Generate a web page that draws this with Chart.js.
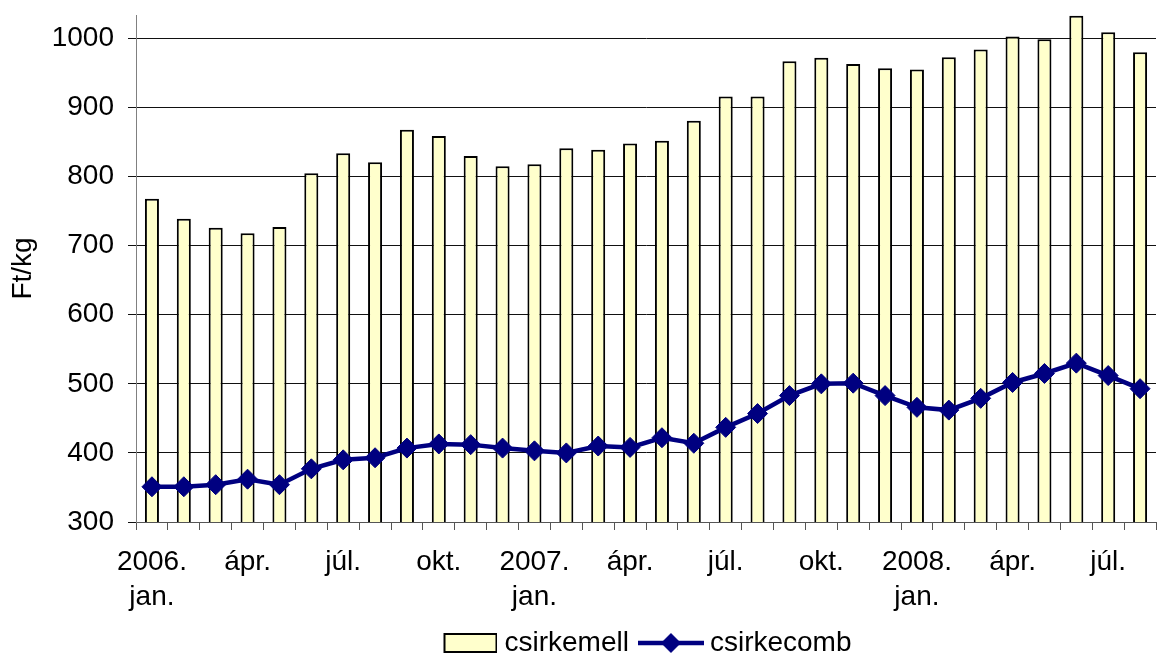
<!DOCTYPE html>
<html>
<head>
<meta charset="utf-8">
<script src="https://cdn.jsdelivr.net/npm/chart.js@4/dist/chart.umd.min.js"></script>
<style>
  html, body { margin: 0; padding: 0; overflow: hidden; background: #fff; }
  #wrap { position: relative; width: 1157px; height: 655px; overflow: hidden; }
  #c { position: absolute; left: 0; top: 0; }
</style>
</head>
<body>
<div id="wrap"><canvas id="c" width="1167" height="667"></canvas></div>
<script>
// Categories: months 2006 jan .. 2008 aug
const categories = [
  "2006. jan.","2006. febr.","2006. márc.","2006. ápr.","2006. máj.","2006. jún.",
  "2006. júl.","2006. aug.","2006. szept.","2006. okt.","2006. nov.","2006. dec.",
  "2007. jan.","2007. febr.","2007. márc.","2007. ápr.","2007. máj.","2007. jún.",
  "2007. júl.","2007. aug.","2007. szept.","2007. okt.","2007. nov.","2007. dec.",
  "2008. jan.","2008. febr.","2008. márc.","2008. ápr.","2008. máj.","2008. jún.",
  "2008. júl.","2008. aug."
];

// Axis tick labels shown under the categories
const tickLabels = [
  ["2006.","jan."],"","","ápr.","","","júl.","","","okt.","","",
  ["2007.","jan."],"","","ápr.","","","júl.","","","okt.","","",
  ["2008.","jan."],"","","ápr.","","","júl.",""
];

// Series values (Ft/kg)
const csirkemell = [
  768, 739, 726, 718, 727, 805, 834, 821, 868, 859, 830, 815,
  818, 841, 839, 848, 852, 881, 916, 916, 967, 972, 963, 957,
  955, 973, 984, 1003, 999, 1033, 1009, 980
];
const csirkecomb = [
  351, 351, 354, 362, 354, 377, 390, 393, 407, 413, 412, 407,
  403, 400, 410, 408, 422, 414, 437, 457, 483, 500, 501, 483,
  466, 462, 479, 502, 515, 530, 512, 493
];

const yMin = 300;
const yMax = 1034;
const yStep = 100;

const FONT = "'Liberation Sans', Arial, sans-serif";
const BAR_FILL = "#FFFFCC";
const LINE_COLOR = "#000080";

// Legend icons
function barIcon() {
  const c = document.createElement('canvas');
  c.width = 64; c.height = 22;
  const g = c.getContext('2d');
  g.fillStyle = BAR_FILL;
  g.fillRect(11, 2, 52, 18);
  g.strokeStyle = '#000';
  g.lineWidth = 2;
  g.strokeRect(11, 2, 52, 18);
  return c;
}
function lineIcon() {
  const c = document.createElement('canvas');
  c.width = 66; c.height = 22;
  const g = c.getContext('2d');
  g.strokeStyle = LINE_COLOR;
  g.lineWidth = 4.5;
  g.beginPath(); g.moveTo(0, 11); g.lineTo(66, 11); g.stroke();
  g.fillStyle = LINE_COLOR;
  g.beginPath();
  g.moveTo(33, 1); g.lineTo(43, 11); g.lineTo(33, 21); g.lineTo(23, 11); g.closePath();
  g.fill();
  return c;
}
const icons = [barIcon(), lineIcon()];

new Chart(document.getElementById('c'), {
  type: 'bar',
  data: {
    labels: categories,
    datasets: [
      {
        type: 'line',
        label: 'csirkecomb',
        data: csirkecomb,
        borderColor: LINE_COLOR,
        backgroundColor: LINE_COLOR,
        borderWidth: 4.5,
        pointStyle: 'rectRot',
        pointRadius: 10,
        pointBorderWidth: 1,
        pointBackgroundColor: LINE_COLOR,
        pointBorderColor: LINE_COLOR,
        tension: 0,
        order: 1
      },
      {
        type: 'bar',
        label: 'csirkemell',
        data: csirkemell,
        backgroundColor: BAR_FILL,
        borderColor: '#000',
        borderWidth: 2,
        borderSkipped: false,
        barPercentage: 0.44,
        categoryPercentage: 1.0,
        order: 2
      }
    ]
  },
  options: {
    responsive: false,
    animation: false,
    devicePixelRatio: 1,
    layout: { padding: { top: 15, right: 0, left: 0, bottom: 0 } },
    plugins: {
      tooltip: { enabled: false },
      legend: {
        position: 'bottom',
        fullSize: false,
        labels: {
          usePointStyle: true,
          pointStyleWidth: 50,
          boxHeight: 22,
          padding: 17,
          color: '#000',
          font: { family: FONT, size: 28 },
          generateLabels: (chart) => {
            return [
              { text: 'csirkemell', pointStyle: icons[0], fillStyle: BAR_FILL, strokeStyle: '#000', lineWidth: 0, hidden: false, datasetIndex: 1, fontColor: '#000' },
              { text: 'csirkecomb', pointStyle: icons[1], fillStyle: LINE_COLOR, strokeStyle: LINE_COLOR, lineWidth: 0, hidden: false, datasetIndex: 0, fontColor: '#000' }
            ];
          }
        }
      }
    },
    scales: {
      x: {
        offset: true,
        grid: {
          offset: true,
          drawOnChartArea: false,
          drawTicks: true,
          tickLength: 8,
          color: '#555'
        },
        border: { display: true, color: '#555', width: 1 },
        ticks: {
          autoSkip: false,
          maxRotation: 0,
          minRotation: 0,
          padding: 15,
          color: '#000',
          font: { family: FONT, size: 28, lineHeight: 1.25 },
          callback: (v, i) => tickLabels[i]
        },
        afterFit: (s) => { s.paddingLeft = 0; s.paddingRight = 0; s.height = s.height - 18; }
      },
      y: {
        min: yMin,
        max: yMax,
        grid: {
          color: '#111',
          lineWidth: 1,
          drawTicks: true,
          tickLength: 8
        },
        border: { display: true, color: '#808080', width: 1 },
        ticks: {
          stepSize: yStep,
          includeBounds: false,
          padding: 14,
          color: '#000',
          font: { family: FONT, size: 28 },
          callback: (v) => String(v)
        },
        title: {
          display: true,
          text: 'Ft/kg',
          color: '#000',
          padding: { top: 6, bottom: 0 },
          font: { family: FONT, size: 28 }
        },
        afterFit: (s) => { s.width = 136; s.paddingTop = 0; s.paddingBottom = 0; }
      }
    }
  }
});
</script>
</body>
</html>
